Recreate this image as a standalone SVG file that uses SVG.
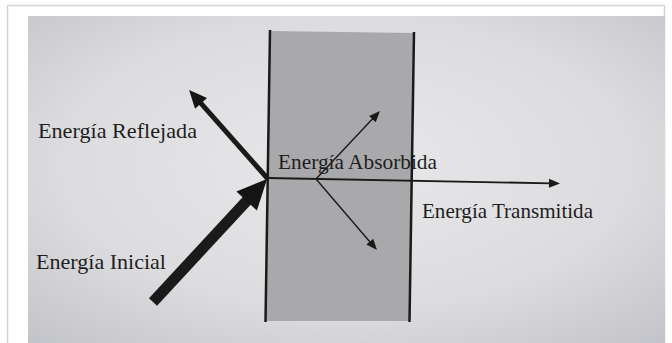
<svg xmlns="http://www.w3.org/2000/svg" width="672" height="343" viewBox="0 0 672 343">
  <defs>
    <radialGradient id="paper" cx="0.5" cy="0.45" r="0.75">
      <stop offset="0" stop-color="#e8e8ea"/>
      <stop offset="0.6" stop-color="#dcdcdf"/>
      <stop offset="1" stop-color="#c2c3c8"/>
    </radialGradient>
    <marker id="headBig" markerUnits="userSpaceOnUse" orient="auto" markerWidth="32" markerHeight="30" refX="2" refY="0" viewBox="0 -15 32 30" overflow="visible">
      <path d="M0,-14 L30,0 L0,14 z" fill="#141414"/>
    </marker>
    <marker id="headMid" markerUnits="userSpaceOnUse" orient="auto" markerWidth="20" markerHeight="18" refX="2" refY="0" viewBox="0 -9 20 18" overflow="visible">
      <path d="M0,-8 L18,0 L0,8 z" fill="#141414"/>
    </marker>
    <marker id="headSmall" markerUnits="userSpaceOnUse" orient="auto" markerWidth="13" markerHeight="10" refX="2" refY="0" viewBox="0 -5 13 10" overflow="visible">
      <path d="M0,-4.5 L11,0 L0,4.5 z" fill="#1a1a1a"/>
    </marker>
  </defs>
  <style>
    .lbl { font-family: "Liberation Serif", "Times New Roman", serif; font-size: 21px; fill: #1e1e1e; }
    .edge { stroke: #1a1a1a; fill: none; }
  </style>
  <rect x="0" y="0" width="672" height="343" fill="#ffffff"/>
  <rect x="7.5" y="5.5" width="657" height="345" fill="none" stroke="#d4d4d4" stroke-width="1.5"/>
  <rect x="28" y="16" width="637" height="327" fill="url(#paper)"/>

  <g id="slab">
    <polygon points="270,31 414,33 409,321 265,321" fill="#a9a8ab"/>
    <line x1="270" y1="30" x2="265.5" y2="322" stroke="#1a1a1a" stroke-width="2.5"/>
    <line x1="414" y1="32" x2="409.5" y2="322" stroke="#1a1a1a" stroke-width="2.5"/>
  </g>

  <g id="connectors">
    <line class="edge" x1="268" y1="178" x2="551" y2="183.3" stroke-width="1.8" marker-end="url(#headSmall)"/>
    <line class="edge" x1="153" y1="302" x2="248" y2="199.5" stroke-width="11" marker-end="url(#headBig)"/>
    <line class="edge" x1="268" y1="179" x2="199.7" y2="101.9" stroke-width="5" marker-end="url(#headMid)"/>
    <line class="edge" x1="316" y1="179" x2="373.8" y2="117.6" stroke-width="1.4" marker-end="url(#headSmall)"/>
    <line class="edge" x1="316" y1="179" x2="371.1" y2="243.2" stroke-width="1.4" marker-end="url(#headSmall)"/>
  </g>

  <g id="label-reflejada">
    <text class="lbl" x="38" y="138" textLength="159" lengthAdjust="spacingAndGlyphs">Energía Reflejada</text>
  </g>
  <g id="label-absorbida">
    <text class="lbl" x="278" y="169" textLength="159" lengthAdjust="spacingAndGlyphs">Energía Absorbida</text>
  </g>
  <g id="label-transmitida">
    <text class="lbl" x="422" y="218" textLength="171" lengthAdjust="spacingAndGlyphs">Energía Transmitida</text>
  </g>
  <g id="label-inicial">
    <text class="lbl" x="36" y="269" textLength="130" lengthAdjust="spacingAndGlyphs">Energía Inicial</text>
  </g>
</svg>
